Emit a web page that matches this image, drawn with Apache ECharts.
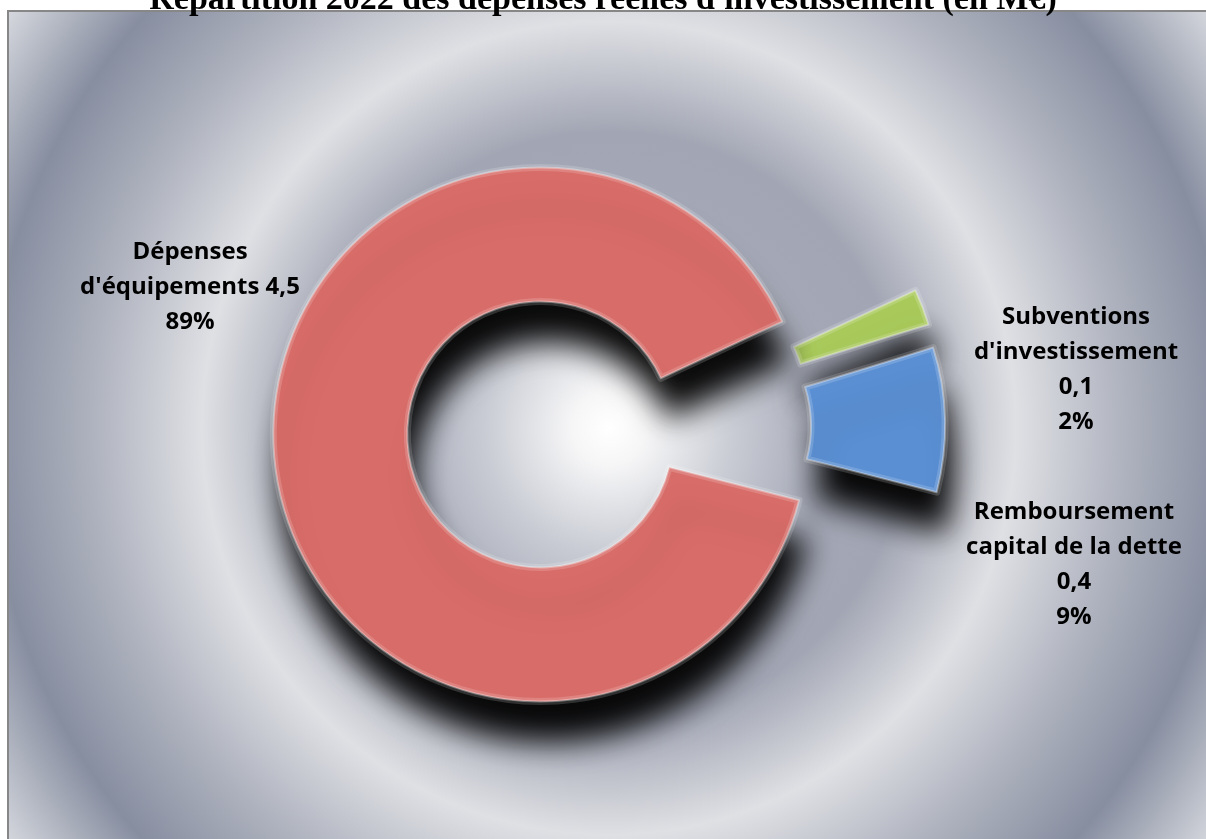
<!DOCTYPE html>
<html><head><meta charset="utf-8">
<script src="https://cdn.jsdelivr.net/npm/echarts@6/dist/echarts.min.js"></script>
<style>html,body{margin:0;padding:0;background:#fff}#c{width:1206px;height:839px}</style>
</head><body><div id="c"></div>
<script>
// ---- data ----
const titleText = "Répartition 2022 des dépenses réelles d'investissement (en M€)";
const categories = ["Subventions d'investissement", "Remboursement capital de la dette", "Dépenses d'équipements"];
const values = [0.11, 0.44, 4.49];
const colors = ['#A9CA5B', '#5A8FD3', '#D86C68'];

// ---- layout / style ----
const center = [609, 428];
const labelPos = [[1076, 370], [1074, 565], [190, 287]];
const labelWrapWidth = 232;   // wrap width (px) used to break labels like the original
const labelFont = {fontFamily: 'Open Sans', fontWeight: 'bold', fontSize: 24, lineHeight: 35, fill: '#000'};

const total = values.reduce((a, b) => a + b, 0);
const fmtVal = v => v.toFixed(1).replace('.', ',');

// word wrap on spaces only, measured with the label font
const measureCtx = document.createElement('canvas').getContext('2d');
function wrapWords(text, maxW) {
  measureCtx.font = 'bold 24px "Open Sans"';
  const words = text.split(' ');
  const lines = [];
  let cur = '';
  words.forEach(w => {
    const t = cur ? cur + ' ' + w : w;
    if (cur && measureCtx.measureText(t).width > maxW) { lines.push(cur); cur = w; }
    else cur = t;
  });
  if (cur) lines.push(cur);
  return lines.join('\n');
}
const labelText = i => wrapWords(categories[i] + ' ' + fmtVal(values[i]), labelWrapWidth) + '\n' + Math.round(values[i] / total * 100) + '%';

const chart = echarts.init(document.getElementById('c'), null, {renderer: 'canvas'});

const bg = new echarts.graphic.RadialGradient(609, 428, 740, [
  {offset: 0.00, color: '#ffffff'},
  {offset: 0.05, color: '#f6f6f7'},
  {offset: 0.17, color: '#c8cbd3'},
  {offset: 0.30, color: '#a4a8b6'},
  {offset: 0.40, color: '#a2a6b4'},
  {offset: 0.55, color: '#dfe0e4'},
  {offset: 0.70, color: '#aeb2be'},
  {offset: 0.84, color: '#878ea0'},
  {offset: 1.00, color: '#dcdee3'}
], true);

const sliceStyle = {
  borderColor: 'rgba(255,255,255,0.35)', borderWidth: 2,
  shadowBlur: 30, shadowColor: 'rgba(0,0,0,0.95)', shadowOffsetX: 8, shadowOffsetY: 40
};
const rimStyle = {color: 'rgba(0,0,0,0)', borderColor: 'rgba(255,255,255,0.16)', borderWidth: 7};

function build() {
  const graphics = [{
    type: 'rect', silent: true, z: -10,
    shape: {x: 8, y: 11, width: 1210, height: 840},
    style: {fill: bg, stroke: '#878787', lineWidth: 2}
  }];
  categories.forEach((c, i) => {
    graphics.push({
      type: 'text', silent: true, z: 10,
      x: labelPos[i][0], y: labelPos[i][1],
      style: Object.assign({text: labelText(i), align: 'center', verticalAlign: 'middle'}, labelFont)
    });
  });

  const pieBase = {
    type: 'pie',
    center: center,
    radius: [133, 267],
    startAngle: 25,
    clockwise: true,
    selectedMode: 'multiple',
    selectedOffset: 69,
    emphasis: {disabled: true},
    label: {show: false},
    labelLine: {show: false},
    silent: true
  };

  chart.setOption({
    animation: false,
    backgroundColor: '#ffffff',
    title: {
      text: titleText, left: 'center', top: -22,
      textStyle: {fontFamily: 'Liberation Serif', fontWeight: 'bold', fontSize: 34, color: '#000'}
    },
    graphic: graphics,
    series: [
      Object.assign({}, pieBase, {
        data: categories.map((n, i) => ({name: n, value: values[i], selected: true, itemStyle: {color: colors[i]}})),
        itemStyle: sliceStyle,
        select: {itemStyle: sliceStyle}
      }),
      Object.assign({}, pieBase, {
        z: 3,
        data: categories.map((n, i) => ({name: n, value: values[i], selected: true})),
        itemStyle: rimStyle,
        select: {itemStyle: rimStyle}
      })
    ]
  });
}
if (document.fonts && document.fonts.load) {
  document.fonts.load('bold 24px "Open Sans"').then(build, build);
} else build();
</script></body></html>
